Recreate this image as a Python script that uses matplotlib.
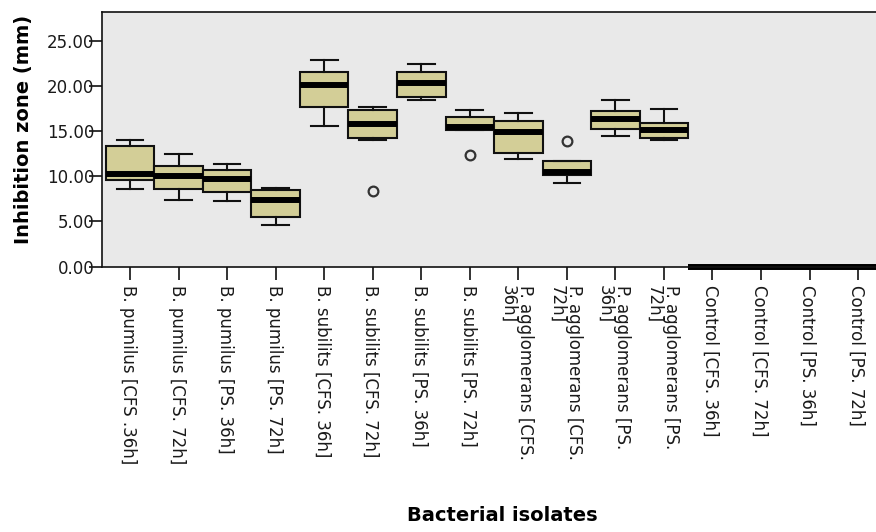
import matplotlib
matplotlib.use("Agg")
import matplotlib.pyplot as plt

# Category labels (as printed under each box)
categories = [
    "B. pumilus [CFS .36h]", "B. pumilus [CFS. 72h]", "B. pumilus [PS. 36h]", "B. pumilus [PS. 72h]",
    "B. subilits [CFS. 36h]", "B. subilits [CFS. 72h]", "B. subilits [PS. 36h]", "B. subilits [PS. 72h]",
    "P. agglomerans [CFS.\n36h]", "P. agglomerans [CFS.\n72h]", "P. agglomerans [PS.\n36h]", "P. agglomerans [PS.\n72h]",
    "Control [CFS. 36h]", "Control [CFS. 72h]", "Control [PS. 36h]", "Control [PS. 72h]",
]

# Box statistics (mm)
whis_lo = [8.60, 7.40, 7.22, 4.60, 15.60, 14.00, 18.44, 15.08, 11.86, 9.27, 14.44, 13.97, 0, 0, 0, 0]
q1 = [9.56, 8.60, 8.22, 5.49, 17.70, 14.20, 18.80, 15.08, 12.60, 10.12, 15.19, 14.19, 0, 0, 0, 0]
med = [10.30, 10.00, 9.74, 7.40, 20.10, 15.80, 20.30, 15.50, 14.93, 10.50, 16.30, 15.16, 0, 0, 0, 0]
q3 = [13.33, 11.10, 10.67, 8.52, 21.50, 17.30, 21.55, 16.55, 16.10, 11.67, 17.20, 15.86, 0, 0, 0, 0]
whis_hi = [13.97, 12.50, 11.40, 8.70, 22.86, 17.70, 22.40, 17.30, 17.04, 11.67, 18.44, 17.49, 0, 0, 0, 0]
fliers = [[], [], [], [], [], [8.4], [], [12.4], [], [13.9], [], [], [], [], [], []]

yticks = [0, 5, 10, 15, 20, 25]

BG_COLOR = '#e9e9e9'
BOX_COLOR = '#d3ce97'
INK = '#111111'


def draw_chart():
    fig = plt.figure(figsize=(8.76, 5.32), dpi=100)
    # axes runs a little past the right edge, as in the original export
    ax = fig.add_axes([0.117, 0.4987, 0.894, 0.4793])
    ax.set_facecolor(BG_COLOR)

    stats = []
    for i in range(len(categories)):
        stats.append(dict(whislo=whis_lo[i], q1=q1[i], med=med[i], q3=q3[i],
                          whishi=whis_hi[i], fliers=fliers[i]))

    positions = list(range(len(categories)))
    art = ax.bxp(stats, positions=positions, widths=1.0, capwidths=0.55,
                 patch_artist=True, showfliers=True,
                 boxprops=dict(facecolor=BOX_COLOR, edgecolor=INK, linewidth=1.5),
                 medianprops=dict(color='black', linewidth=4.3, solid_capstyle='butt'),
                 whiskerprops=dict(color=INK, linewidth=1.5),
                 capprops=dict(color=INK, linewidth=1.5),
                 flierprops=dict(marker='o', markersize=7, markerfacecolor='none',
                                 markeredgecolor='#333333', markeredgewidth=1.6))
    for m in art['medians']:
        m.set_clip_on(False)

    ax.set_xlim(-0.567, 15.567)
    ax.set_ylim(0, 28.2)

    # y axis
    ax.set_yticks(yticks, [f"{v:.2f}" for v in yticks], fontsize=12, color='#1a1a1a')
    ax.tick_params(axis='y', length=9.4, width=1.2, pad=-3.6, color=INK)

    # x axis, labels read top to bottom
    ax.set_xticks(positions, categories, fontsize=12, color='#1a1a1a')
    ax.tick_params(axis='x', length=9.4, width=1.2, pad=3.6, color=INK)
    for lbl in ax.get_xticklabels():
        lbl.set_rotation(270)
        lbl.set_rotation_mode('anchor')
        lbl.set_ha('left')
        lbl.set_va('center_baseline')
        lbl.set_linespacing(0.95)

    for side in ['top', 'left', 'bottom', 'right']:
        ax.spines[side].set_color(INK)
        ax.spines[side].set_linewidth(1.2)

    ax.set_ylabel("Inhibition zone (mm)", fontsize=14, fontweight='bold')
    ax.yaxis.set_label_coords(-0.0888, 0.54)
    ax.set_xlabel("Bacterial isolates", fontsize=14, fontweight='bold')
    ax.xaxis.set_label_coords(0.51, -0.938)

    fig.savefig("out.png", dpi=100, facecolor='white')
    plt.close(fig)


if __name__ == "__main__":
    draw_chart()
